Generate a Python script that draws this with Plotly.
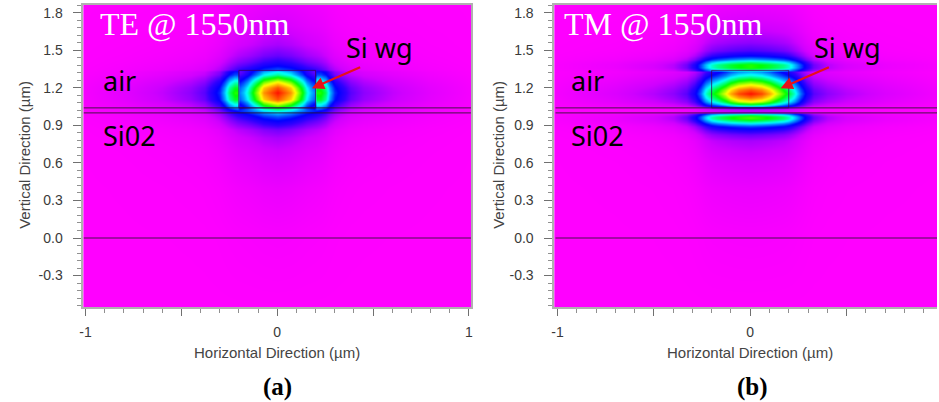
import plotly.graph_objects as go
import numpy as np

# ---------------- data ----------------
# TE mode: horizontal profiles (rows inside the Si layer / rows in the claddings) and vertical profile
TE_X = [-1.01, -0.8, -0.6, -0.45, -0.38, -0.33, -0.30, -0.275, -0.25, -0.225, -0.205, -0.195,
        -0.175, -0.155, -0.13, -0.10, -0.07, 0.0, 0.07, 0.10, 0.13, 0.155, 0.175, 0.195,
        0.205, 0.225, 0.25, 0.275, 0.30, 0.33, 0.38, 0.45, 0.6, 0.8, 1.01]
TE_FX_CORE = [0.012, 0.035, 0.07, 0.11, 0.15, 0.22, 0.27, 0.38, 0.52, 0.60, 0.60, 0.33,
              0.38, 0.45, 0.58, 0.72, 0.86, 1.0, 0.86, 0.72, 0.58, 0.45, 0.38, 0.33,
              0.60, 0.60, 0.52, 0.38, 0.27, 0.22, 0.15, 0.11, 0.07, 0.035, 0.012]
TE_FX_CLAD = [0.012, 0.035, 0.07, 0.11, 0.15, 0.22, 0.28, 0.36, 0.45, 0.53, 0.58, 0.60,
              0.64, 0.68, 0.74, 0.82, 0.90, 1.0, 0.90, 0.82, 0.74, 0.68, 0.64, 0.60,
              0.58, 0.53, 0.45, 0.36, 0.28, 0.22, 0.15, 0.11, 0.07, 0.035, 0.012]
TE_Y = [-0.56, 0.0, 0.4, 0.6, 0.7, 0.8, 0.87, 0.91, 0.94, 0.97, 1.0, 1.02, 1.05, 1.08, 1.11,
        1.16, 1.20, 1.24, 1.28, 1.31, 1.33, 1.35, 1.38, 1.41, 1.46, 1.55, 1.7, 1.87]
TE_FY = [0.0, 0.008, 0.025, 0.045, 0.06, 0.09, 0.13, 0.19, 0.24, 0.30, 0.38, 0.45, 0.62, 0.78, 0.92,
         1.0, 0.93, 0.78, 0.60, 0.48, 0.42, 0.30, 0.24, 0.19, 0.14, 0.09, 0.05, 0.03]

# TM mode
TM_X = [-1.01, -0.7, -0.5, -0.4, -0.33, -0.29, -0.26, -0.23, -0.2, -0.17, -0.13, -0.1, -0.06,
        0.0, 0.06, 0.1, 0.13, 0.17, 0.2, 0.23, 0.26, 0.29, 0.33, 0.4, 0.5, 0.7, 1.01]
TM_FX_CORE = [0.012, 0.045, 0.08, 0.11, 0.15, 0.22, 0.32, 0.45, 0.55, 0.62, 0.74, 0.84, 0.94,
              1.0, 0.94, 0.84, 0.74, 0.62, 0.55, 0.45, 0.32, 0.22, 0.15, 0.11, 0.08, 0.045, 0.012]
TM_FX_CLAD = [0.012, 0.04, 0.08, 0.13, 0.22, 0.34, 0.48, 0.62, 0.75, 0.82, 0.88, 0.92, 0.96,
              1.0, 0.96, 0.92, 0.88, 0.82, 0.75, 0.62, 0.48, 0.34, 0.22, 0.13, 0.08, 0.04, 0.012]
TM_Y = [-0.56, 0.0, 0.4, 0.6, 0.7, 0.78, 0.83, 0.86, 0.89, 0.915, 0.935, 0.955, 0.975, 0.99,
        0.998, 1.006, 1.03, 1.042, 1.05, 1.065, 1.09, 1.12, 1.157, 1.19, 1.23, 1.27, 1.30, 1.33,
        1.342, 1.365, 1.39, 1.41, 1.43, 1.46, 1.50, 1.56, 1.65, 1.75, 1.87]
TM_FY = [0.0, 0.008, 0.025, 0.045, 0.065, 0.09, 0.14, 0.20, 0.28, 0.40, 0.50, 0.62, 0.62, 0.50,
         0.40, 0.08, 0.08, 0.20, 0.35, 0.55, 0.75, 0.90, 1.0, 0.92, 0.75, 0.58, 0.45, 0.36,
         0.45, 0.60, 0.60, 0.48, 0.36, 0.24, 0.16, 0.11, 0.07, 0.045, 0.025]

Y_TICKS = [-0.3, 0.0, 0.3, 0.6, 0.9, 1.2, 1.5, 1.8]
Y_TICKTEXT = ["-0.3", "0.0", "0.3", "0.6", "0.9", "1.2", "1.5", "1.8"]
X_TICKS = [-1, -0.5, 0, 0.5, 1]
X_TICKTEXT = ["-1", "", "0", "", "1"]

INTERFACES = [0.0, 1.0, 1.04]          # horizontal structure lines
WG = dict(x0=-0.2, x1=0.2, y0=1.04, y1=1.34)   # Si waveguide outline

PANEL_TITLES = ["TE @ 1550nm", "TM @ 1550nm"]
LABELS = ["(a)", "(b)"]

# ---------------- styling ----------------
colorscale = [
    [0.00, "#ff00ff"], [0.06, "#d000ff"], [0.12, "#8000ff"], [0.18, "#3000ff"],
    [0.24, "#0000ff"], [0.33, "#0080ff"], [0.42, "#00ffff"], [0.58, "#00ff00"],
    [0.75, "#ffff00"], [0.88, "#ff8000"], [1.00, "#ff1000"],
]

W, H = 939, 402
fig = go.Figure()


def field(ys, fys, core, clad):
    return np.array([[fy * (c if WG["y0"] <= y <= WG["y1"] else d) for c, d in zip(core, clad)]
                     for y, fy in zip(ys, fys)])


zTE = field(TE_Y, TE_FY, TE_FX_CORE, TE_FX_CLAD)
zTM = field(TM_Y, TM_FY, TM_FX_CORE, TM_FX_CLAD)

fig.add_trace(go.Heatmap(x=TE_X, y=TE_Y, z=zTE, zmin=0, zmax=1, zsmooth="best",
                         colorscale=colorscale, showscale=False, hoverinfo="skip",
                         xaxis="x", yaxis="y"))
fig.add_trace(go.Heatmap(x=TM_X, y=TM_Y, z=zTM, zmin=0, zmax=1, zsmooth="best",
                         colorscale=colorscale, showscale=False, hoverinfo="skip",
                         xaxis="x2", yaxis="y2"))

ydom = [(H - 307) / H, (H - 4.5) / H]
yrange = [-0.5516, 1.8665]
tickfont = dict(family="Liberation Sans, Arial", size=14, color="#3a3a3a")
frame = "#b0b0b0"


def xaxis_cfg(dom, rng):
    return dict(domain=dom, range=rng, tickmode="array", tickvals=X_TICKS, ticktext=X_TICKTEXT,
                ticks="outside", ticklen=7, tickcolor="#707070", tickwidth=1,
                minor=dict(tickmode="linear", tick0=0, dtick=0.1, ticks="outside",
                           ticklen=4, tickcolor="#909090"),
                showline=True, linecolor=frame, linewidth=2, mirror=True,
                showgrid=False, zeroline=False, tickfont=tickfont, ticklabelstandoff=4,
                fixedrange=True)


def yaxis_cfg(anchor, mirror):
    return dict(domain=ydom, range=yrange, anchor=anchor, tickmode="array",
                tickvals=Y_TICKS, ticktext=Y_TICKTEXT,
                ticks="outside", ticklen=8, tickcolor="#707070", tickwidth=1,
                minor=dict(tickmode="linear", tick0=0, dtick=0.06, ticks="outside",
                           ticklen=4, tickcolor="#909090"),
                showline=True, linecolor=frame, linewidth=2, mirror=mirror,
                showgrid=False, zeroline=False, tickfont=tickfont, ticklabelstandoff=8,
                fixedrange=True)


fig.update_layout(
    width=W, height=H, margin=dict(l=0, r=0, t=0, b=0),
    paper_bgcolor="white", plot_bgcolor="#ff00ff",
    xaxis=dict(**xaxis_cfg([80 / W, 470 / W], [-1.0104, 1.0104]), anchor="y"),
    yaxis=yaxis_cfg("x", True),
    xaxis2=dict(**xaxis_cfg([554 / W, 1.0], [-1.0155, 0.9691]), anchor="y2"),
    yaxis2=yaxis_cfg("x2", False),
    showlegend=False,
)

shapes = []
for xr, yr in [("x", "y"), ("x2", "y2")]:
    for yv in INTERFACES:
        shapes.append(dict(type="line", xref=xr, yref=yr, x0=-1.01, x1=1.01, y0=yv, y1=yv,
                           line=dict(color="rgba(40,20,40,0.85)", width=1)))
    shapes.append(dict(type="rect", xref=xr, yref=yr, **WG,
                       line=dict(color="rgba(60,0,90,0.75)", width=1)))
fig.update_layout(shapes=shapes)

ann = []
label_font = dict(family="Noto Sans, Open Sans, sans-serif", size=27, color="black")
panels = [
    dict(xr="x", yr="y", tx=-0.933, lx=-0.92, wx=0.346, ax=0.44, hx=0.181),
    dict(xr="x2", yr="y2", tx=-0.976, lx=-0.94, wx=0.32, ax=0.416, hx=0.158),
]
for i, p in enumerate(panels):
    ann.append(dict(xref=p["xr"], yref=p["yr"], x=p["tx"], y=1.71, text=PANEL_TITLES[i],
                    showarrow=False, xanchor="left", yanchor="middle",
                    font=dict(family="Liberation Serif, Times New Roman, serif", size=32, color="white")))
    ann.append(dict(xref=p["xr"], yref=p["yr"], x=p["lx"], y=1.256, text="air",
                    showarrow=False, xanchor="left", yanchor="middle", font=label_font))
    ann.append(dict(xref=p["xr"], yref=p["yr"], x=p["lx"], y=0.816, text="Si02",
                    showarrow=False, xanchor="left", yanchor="middle", font=label_font))
    ann.append(dict(xref=p["xr"], yref=p["yr"], x=p["wx"], y=1.52, text="Si wg",
                    showarrow=False, xanchor="left", yanchor="middle", font=label_font))
    ann.append(dict(xref=p["xr"], yref=p["yr"], x=p["hx"], y=1.197, ax=p["ax"], ay=1.37,
                    axref=p["xr"], ayref=p["yr"], text="", showarrow=True,
                    arrowhead=2, arrowsize=1.1, arrowwidth=2.2, arrowcolor="#e8101a"))

title_font = dict(family="Liberation Sans, Arial", size=15, color="#444444")
for i, (vx, hx) in enumerate([(20, 275), (497, 751)]):
    ann.append(dict(xref="paper", yref="paper", x=vx / W, y=(H - 155) / H,
                    text="Vertical Direction (µm)", textangle=-90, showarrow=False,
                    xanchor="center", yanchor="middle", font=title_font))
    ann.append(dict(xref="paper", yref="paper", x=hx / W, y=(H - 352) / H,
                    text="Horizontal Direction (µm)", showarrow=False,
                    xanchor="center", yanchor="middle", font=title_font))
    ann.append(dict(xref="paper", yref="paper", x=(hx + 2 * i) / W, y=(H - 387) / H,
                    text="<b>" + LABELS[i] + "</b>", showarrow=False,
                    xanchor="center", yanchor="middle",
                    font=dict(family="Liberation Serif, Times New Roman, serif", size=25, color="black")))
fig.update_layout(annotations=ann)

fig.write_html("out.html")
